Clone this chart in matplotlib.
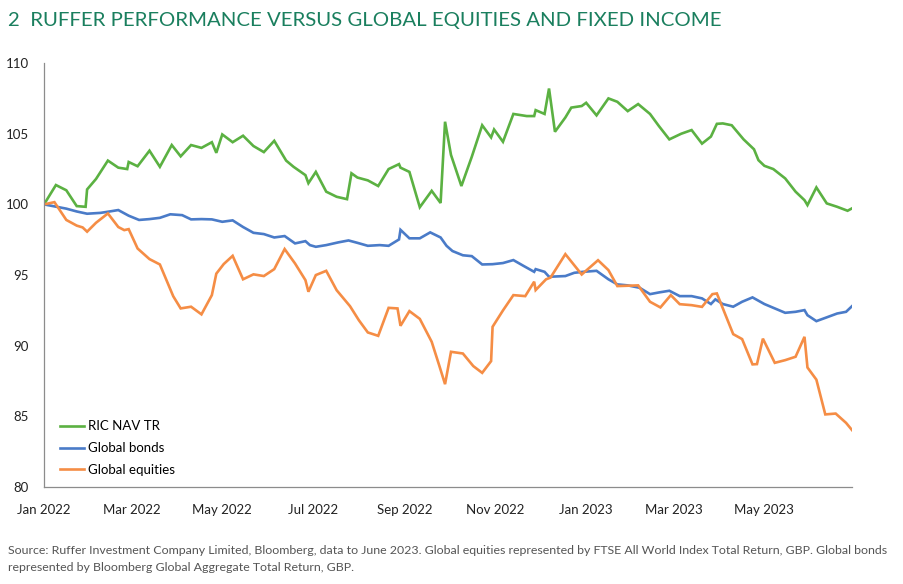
import matplotlib
matplotlib.use("Agg")
import matplotlib.pyplot as plt
import matplotlib.dates as mdates
import pandas as pd

# days since 2022-01-01, value (rebased to 100)
ric_days = [0, 8, 15, 22, 28, 29, 35, 43, 50, 56, 57, 63, 71, 78, 86, 92, 99, 106, 113, 116,
            120, 127, 134, 141, 148, 155, 163, 168, 176, 178, 183, 190, 197, 204, 207, 211,
            218, 225, 232, 239, 240, 246, 253, 261, 267, 270, 274, 281, 288, 295, 301, 303,
            309, 316, 325, 330, 331, 337, 340, 344, 351, 355, 362, 365, 372, 380, 386, 393,
            400, 408, 414, 421, 429, 436, 443, 449, 453, 457, 463, 471, 478, 481, 485, 491,
            499, 506, 512, 514, 520, 527, 534, 541, 544]
ric_vals = [100.0, 101.37, 101.0, 99.88, 99.83, 101.06, 101.8, 103.1, 102.6, 102.5, 103.0,
            102.7, 103.8, 102.66, 104.2, 103.4, 104.2, 104.0, 104.4, 103.65, 104.95, 104.4,
            104.86, 104.13, 103.7, 104.5, 103.1, 102.66, 102.07, 101.5, 102.3, 100.9, 100.54,
            100.37, 102.2, 101.9, 101.7, 101.3, 102.5, 102.85, 102.6, 102.3, 99.8, 100.96,
            100.1, 105.85, 103.5, 101.3, 103.37, 105.6, 104.74, 105.3, 104.43, 106.4, 106.25,
            106.25, 106.67, 106.4, 108.2, 105.14, 106.15, 106.85, 106.96, 107.19, 106.3, 107.5,
            107.26, 106.6, 107.1, 106.4, 105.54, 104.6, 105.0, 105.26, 104.3, 104.8, 105.7,
            105.73, 105.6, 104.6, 103.9, 103.13, 102.73, 102.5, 101.84, 100.9, 100.3, 99.95,
            101.2, 100.07, 99.83, 99.55, 99.72]

bond_days = [0, 7, 15, 22, 29, 38, 43, 50, 57, 64, 71, 78, 85, 93, 99, 106, 113, 120, 127,
             134, 141, 148, 155, 162, 169, 176, 179, 183, 190, 198, 205, 211, 218, 226, 232,
             239, 240, 246, 253, 260, 267, 271, 275, 282, 288, 295, 302, 309, 316, 323, 330,
             331, 337, 340, 351, 357, 363, 372, 380, 386, 393, 401, 408, 414, 421, 428, 436,
             443, 449, 452, 457, 464, 470, 477, 485, 492, 499, 506, 512, 514, 520, 526, 534,
             540, 544]
bond_vals = [100.0, 99.86, 99.7, 99.5, 99.34, 99.4, 99.48, 99.6, 99.2, 98.9, 98.96, 99.05,
             99.3, 99.24, 98.94, 98.96, 98.94, 98.77, 98.87, 98.4, 97.99, 97.9, 97.66, 97.76,
             97.24, 97.4, 97.12, 97.0, 97.12, 97.31, 97.45, 97.28, 97.07, 97.12, 97.07, 97.52,
             98.2, 97.6, 97.6, 98.02, 97.66, 97.07, 96.7, 96.4, 96.34, 95.75, 95.77, 95.85,
             96.06, 95.64, 95.23, 95.42, 95.23, 94.88, 94.93, 95.16, 95.23, 95.3, 94.7, 94.34,
             94.27, 94.1, 93.65, 93.77, 93.89, 93.51, 93.51, 93.35, 92.95, 93.28, 92.95, 92.76,
             93.11, 93.42, 92.95, 92.64, 92.33, 92.4, 92.52, 92.16, 91.74, 91.97, 92.28, 92.4,
             92.8]

eq_days = [0, 7, 15, 22, 26, 29, 35, 43, 50, 54, 57, 63, 71, 78, 87, 92, 99, 106, 113, 116,
           121, 127, 134, 141, 148, 155, 162, 169, 176, 178, 183, 190, 197, 206, 212, 218, 225,
           232, 238, 240, 246, 253, 261, 266, 270, 274, 282, 289, 295, 301, 302, 309, 316, 324,
           330, 331, 338, 341, 351, 362, 373, 380, 386, 400, 408, 415, 422, 428, 436, 443, 450,
           453, 464, 470, 477, 480, 484, 492, 499, 506, 512, 514, 520, 526, 533, 540, 544]
eq_vals = [100.0, 100.16, 98.9, 98.5, 98.37, 98.07, 98.7, 99.36, 98.4, 98.18, 98.25, 96.88,
           96.13, 95.75, 93.5, 92.64, 92.76, 92.22, 93.58, 95.1, 95.78, 96.36, 94.7, 95.05,
           94.93, 95.42, 96.84, 95.82, 94.64, 93.82, 95.0, 95.3, 93.93, 92.8, 91.8, 90.94, 90.7,
           92.68, 92.64, 91.41, 92.45, 91.9, 90.28, 88.63, 87.28, 89.57, 89.45, 88.56, 88.08,
           88.91, 91.34, 92.5, 93.58, 93.51, 94.53, 93.94, 94.7, 94.82, 96.48, 95.04, 96.05,
           95.35, 94.22, 94.27, 93.11, 92.71, 93.58, 92.94, 92.87, 92.75, 93.65, 93.7, 90.82,
           90.47, 88.68, 88.7, 90.5, 88.79, 88.98, 89.22, 90.63, 88.46, 87.6, 85.14, 85.2,
           84.54, 84.03]

labels = ["RIC NAV TR", "Global bonds", "Global equities"]
colors = ["#5BB142", "#4A7BC8", "#F58D45"]
title = "2  RUFFER PERFORMANCE VERSUS GLOBAL EQUITIES AND FIXED INCOME"
source = ("Source: Ruffer Investment Company Limited, Bloomberg, data to June 2023. Global equities "
          "represented by FTSE All World Index Total Return, GBP. Global bonds\n"
          "represented by Bloomberg Global Aggregate Total Return, GBP.")

start = pd.Timestamp("2022-01-01")
def to_dates(days):
    return [start + pd.Timedelta(days=d) for d in days]

plt.rcParams['font.family'] = ['Lato', 'DejaVu Sans']

fig = plt.figure(figsize=(9.04, 5.84), dpi=100)
ax = fig.add_axes([0.0487, 0.166, 0.8938, 0.726])

for d, v, lab, c in zip([ric_days, bond_days, eq_days], [ric_vals, bond_vals, eq_vals], labels, colors):
    ax.plot(to_dates(d), v, color=c, lw=1.9, label=lab, solid_joinstyle='miter')

ax.set_ylim(80, 110)
ax.set_yticks([80, 85, 90, 95, 100, 105, 110])
ax.set_xlim(start, start + pd.Timedelta(days=544))
ax.xaxis.set_major_locator(mdates.MonthLocator(bymonth=[1, 3, 5, 7, 9, 11]))
ax.xaxis.set_major_formatter(mdates.DateFormatter("%b %Y"))
ax.tick_params(axis='both', length=0, labelsize=9.5, colors="#222222")
ax.tick_params(axis='x', pad=12)
ax.tick_params(axis='y', pad=11)
for s in ["top", "right"]:
    ax.spines[s].set_visible(False)
for s in ["left", "bottom"]:
    ax.spines[s].set_color("#8c8c8c")
    ax.spines[s].set_linewidth(0.9)

leg = ax.legend(loc="lower left", bbox_to_anchor=(0.005, -0.002), frameon=False, fontsize=9.5,
                handlelength=1.8, handletextpad=0.35, labelspacing=0.75)

fig.text(0.009, 0.965, title, color="#1A7F5E", fontsize=14.7, va="center")
fig.text(0.009, 0.043, source, color="#555555", fontsize=8.9, va="center", linespacing=1.6)

fig.savefig("out.png", dpi=100)
